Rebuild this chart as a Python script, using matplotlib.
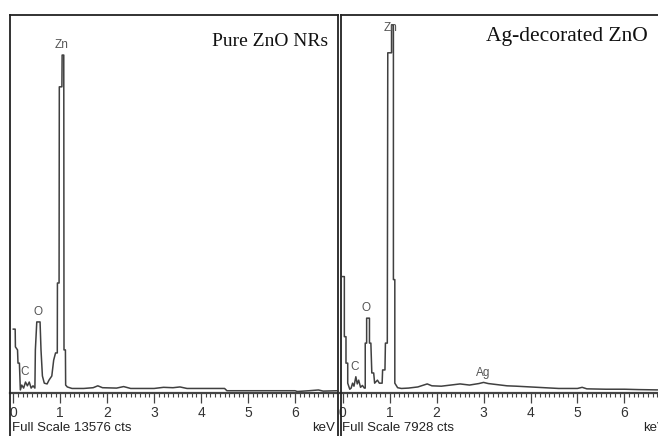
import matplotlib.pyplot as plt
from matplotlib.lines import Line2D
from matplotlib.ticker import MultipleLocator

# EDS spectra, counts as a fraction of full scale
pure_kev = [0.0, 0.04, 0.045, 0.09, 0.10, 0.13, 0.15, 0.18, 0.22, 0.26, 0.30, 0.34,
            0.38, 0.42, 0.46, 0.47, 0.50, 0.57, 0.59, 0.62, 0.66, 0.72, 0.76, 0.82,
            0.86, 0.90, 0.937, 0.94, 0.975, 0.98, 1.035, 1.04, 1.075, 1.08, 1.11, 1.115,
            1.15, 1.25, 1.5, 1.7, 1.8, 1.9, 2.2, 2.35, 2.5, 3.0, 3.2, 3.4, 3.55, 3.7,
            4.5, 4.55, 5.5, 6.0, 6.05, 6.3, 6.5, 6.6, 6.9]
pure_cts = [0.169, 0.169, 0.122, 0.114, 0.079, 0.079, 0.008, 0.021, 0.013, 0.029, 0.019, 0.029,
            0.013, 0.019, 0.013, 0.114, 0.188, 0.188, 0.114, 0.045, 0.026, 0.024, 0.034, 0.045,
            0.087, 0.106, 0.106, 0.291, 0.291, 0.810, 0.810, 0.894, 0.894, 0.114, 0.114, 0.021,
            0.016, 0.012, 0.012, 0.014, 0.019, 0.014, 0.013, 0.017, 0.012, 0.012, 0.015, 0.014, 0.016, 0.012,
            0.012, 0.006, 0.006, 0.006, 0.004, 0.006, 0.008, 0.005, 0.006]

ag_kev = [0.0, 0.035, 0.035, 0.07, 0.07, 0.107, 0.107, 0.15, 0.18, 0.21, 0.24, 0.28,
          0.31, 0.34, 0.38, 0.42, 0.46, 0.48, 0.48, 0.51, 0.51, 0.57, 0.57, 0.60,
          0.62, 0.66, 0.68, 0.74, 0.78, 0.84, 0.85, 0.90, 0.91, 0.95, 0.96, 1.04,
          1.04, 1.08, 1.08, 1.11, 1.11, 1.17, 1.25, 1.4, 1.6, 1.75, 1.8, 1.9, 2.1,
          2.3, 2.5, 2.7, 2.9, 3.0, 3.1, 3.3, 3.5, 3.7, 4.0, 4.3, 4.6, 5.0, 5.1, 5.2,
          5.6, 6.0, 6.3, 6.8]
ag_cts = [0.308, 0.308, 0.149, 0.149, 0.079, 0.079, 0.026, 0.010, 0.013, 0.026, 0.018, 0.043,
          0.024, 0.034, 0.015, 0.020, 0.013, 0.013, 0.132, 0.132, 0.198, 0.198, 0.132, 0.132,
          0.053, 0.053, 0.026, 0.034, 0.026, 0.026, 0.061, 0.061, 0.132, 0.132, 0.900, 0.900,
          0.974, 0.974, 0.300, 0.300, 0.026, 0.014, 0.012, 0.013, 0.016, 0.022, 0.024, 0.019, 0.018,
          0.021, 0.024, 0.021, 0.025, 0.028, 0.025, 0.022, 0.019, 0.018, 0.016, 0.014, 0.012, 0.012, 0.015, 0.011,
          0.010, 0.010, 0.009, 0.008]

pure_labels = [("Zn", 1.02, 0.92), ("O", 0.53, 0.214), ("C", 0.25, 0.056)]
ag_labels = [("Zn", 1.02, 0.965), ("O", 0.50, 0.225), ("C", 0.26, 0.070), ("Ag", 3.0, 0.052)]

titles = ["Pure ZnO NRs", "Ag-decorated ZnO"]
full_scale = [13576, 7928]

W, H = 658, 436
fig = plt.figure(figsize=(W / 100, H / 100), dpi=100)


def fx(x):
    return x / W


def fy(y):
    return 1 - y / H


def panel(x0, x1, zero_px, kev, cts, labels, title, title_xy, title_fs, fs, kev_x):
    ax = fig.add_axes([fx(x0), fy(393), fx(x1 - x0), (393 - 15) / H])
    ax.set_xlim((x0 - zero_px) / 46.95, (x1 - zero_px) / 46.95)
    ax.set_ylim(0, 1)
    ax.plot(kev, cts, color="#404040", lw=1.1)
    for name, x, y in labels:
        ax.text(x, y, name, ha="center", va="center", fontsize=8.5,
                family="Liberation Sans", color="#555555")
    for s in ["top", "left", "right"]:
        ax.spines[s].set_visible(False)
    ax.spines["bottom"].set_color("#444444")
    ax.spines["bottom"].set_linewidth(1.6)
    ax.set_yticks([])
    ax.xaxis.set_major_locator(MultipleLocator(1))
    ax.xaxis.set_minor_locator(MultipleLocator(0.1))
    ax.tick_params(axis="x", which="major", length=7, width=0.9, color="#444444",
                   labelsize=10, labelcolor="#333333", pad=2)
    ax.tick_params(axis="x", which="minor", length=3, width=0.8, color="#444444")
    for t in ax.get_xticklabels():
        t.set_family("Liberation Sans")
    fig.text(fx(title_xy[0]), fy(title_xy[1]), title, fontsize=title_fs,
             family="Liberation Serif", ha="right", va="baseline", color="#111111")
    fig.text(fx(zero_px - 1), fy(428), "Full Scale %d cts" % fs, fontsize=9.5,
             family="Liberation Sans", color="#222222", va="center", ha="left")
    fig.text(fx(kev_x), fy(428), "keV", fontsize=9.5,
             family="Liberation Sans", color="#222222", va="center", ha="right")
    return ax


ax1 = panel(10, 337, 13.3, pure_kev, pure_cts, pure_labels, titles[0], (328, 45.5), 14,
            full_scale[0], 335)
ax2 = panel(340, 658, 342.7, ag_kev, ag_cts, ag_labels, titles[1], (648, 40.5), 15.5,
            full_scale[1], 666)

# frame lines
for x in [10, 337.5, 340.5]:
    fig.add_artist(Line2D([fx(x), fx(x)], [fy(15), 0], color="#222222", lw=1.3,
                          transform=fig.transFigure))
fig.add_artist(Line2D([fx(10), fx(337.5)], [fy(15), fy(15)], color="#222222", lw=1.3,
                      transform=fig.transFigure))
fig.add_artist(Line2D([fx(340.5), 1], [fy(15), fy(15)], color="#222222", lw=1.3,
                      transform=fig.transFigure))

fig.savefig("out.png", dpi=100)
